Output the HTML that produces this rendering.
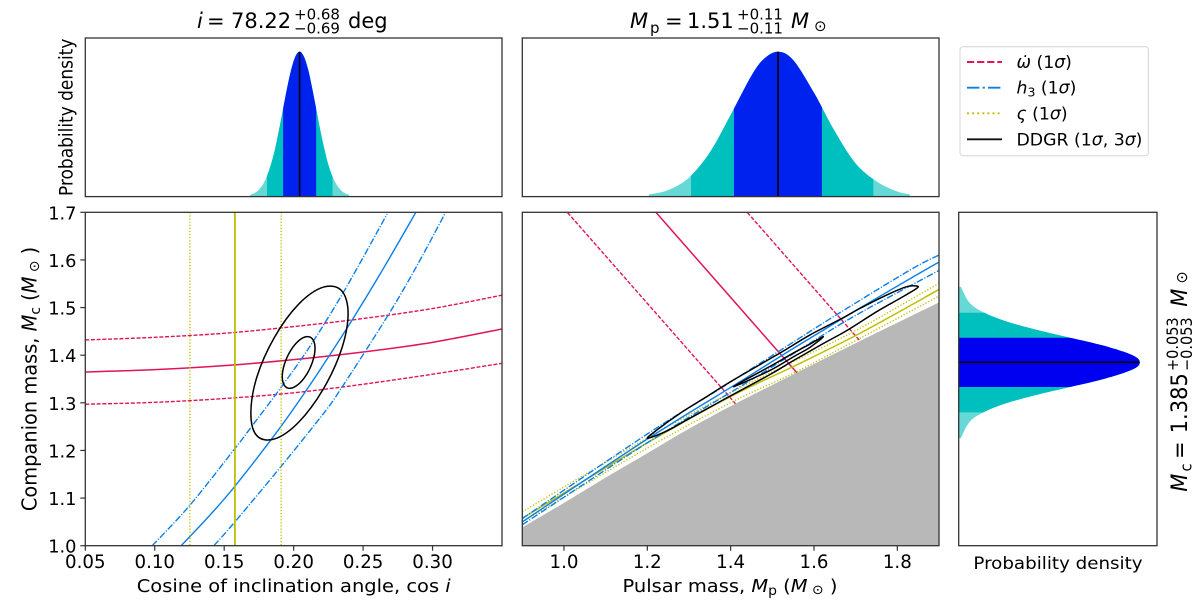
<!DOCTYPE html>
<html lang="en">
<head>
<meta charset="utf-8">
<title>Pulsar mass-mass constraints</title>
<style>
html,body{margin:0;padding:0;background:#fff;}
svg{display:block;font-family:"DejaVu Sans","Liberation Sans",sans-serif;fill:#000;}
text{font-size:17px;}
.it{font-style:italic;}
</style>
</head>
<body>
<svg id="fig" width="1200" height="603" viewBox="0 0 1200 603" xmlns="http://www.w3.org/2000/svg">
  <defs>
    <clipPath id="clip-left"><rect x="85.3" y="212.3" width="416.7" height="333.4"/></clipPath>
    <clipPath id="clip-mid"><rect x="522.3" y="212.3" width="416.7" height="333.4"/></clipPath>
  </defs>
  <rect width="1200" height="603" fill="#fff"/>
  <g id="top-left"></g>
  <g id="top-mid"></g>
  <g id="side-right"></g>
  <g id="main-left" clip-path="url(#clip-left)"></g>
  <g id="main-mid" clip-path="url(#clip-mid)"></g>
  <g id="ticks"></g>

  <rect x="85.3" y="38" width="416.7" height="158.6" fill="none" stroke="#333" stroke-width="1.3"/>
  <rect x="522.3" y="38" width="416.7" height="158.6" fill="none" stroke="#333" stroke-width="1.3"/>
  <rect x="85.3" y="212.3" width="416.7" height="333.4" fill="none" stroke="#333" stroke-width="1.3"/>
  <rect x="522.3" y="212.3" width="416.7" height="333.4" fill="none" stroke="#333" stroke-width="1.3"/>
  <rect x="958.7" y="212.3" width="198.3" height="333.4" fill="none" stroke="#333" stroke-width="1.3"/>

  <g>
    <text x="197" y="28" class="it" style="font-size:21px">i</text>
    <text x="207" y="28" style="font-size:21px">=</text>
    <text x="231" y="28" style="font-size:21px">78.22</text>
    <text x="294" y="19.5" style="font-size:15px">+0.68</text>
    <text x="294" y="33.5" style="font-size:15px">−0.69</text>
    <text x="348" y="28" style="font-size:21px">deg</text>
  </g>
  <g>
    <text x="630" y="28" class="it" style="font-size:21px">M</text>
    <text x="650" y="33" style="font-size:15px">p</text>
    <text x="665" y="28" style="font-size:21px">=</text>
    <text x="687" y="28" style="font-size:21px">1.51</text>
    <text x="737" y="19.5" style="font-size:15px">+0.11</text>
    <text x="737" y="33.5" style="font-size:15px">−0.11</text>
    <text x="791" y="28" class="it" style="font-size:21px">M</text>
    <text x="814" y="31" style="font-size:15px">⊙</text>
  </g>

  <text transform="translate(72.7,117.3) scale(1.075,1) rotate(-90)" text-anchor="middle">Probability density</text>
  <text transform="translate(36.7,379) scale(1.03,1) rotate(-90)" text-anchor="middle" style="font-size:19.4px">Companion mass, <tspan class="it">M</tspan><tspan dy="3" style="font-size:13.8px">c</tspan><tspan dy="-3"> (</tspan><tspan class="it">M</tspan><tspan dy="2" style="font-size:13.8px"> ⊙</tspan><tspan dy="-2"> )</tspan></text>
  <text transform="translate(293.7,592) scale(1.075,1)" text-anchor="middle" style="font-size:18.1px">Cosine of inclination angle, cos <tspan class="it">i</tspan></text>
  <text transform="translate(730,592) scale(1.075,1)" text-anchor="middle" style="font-size:18.1px">Pulsar mass, <tspan class="it">M</tspan><tspan dy="3" style="font-size:13px">p</tspan><tspan dy="-3"> (</tspan><tspan class="it">M</tspan><tspan dy="2" style="font-size:13px"> ⊙</tspan><tspan dy="-2"> )</tspan></text>
  <text transform="translate(1058,569) scale(1.075,1)" text-anchor="middle">Probability density</text>

  <g>
    <text transform="translate(1187,491.7) scale(1.075,1) rotate(-90)" class="it" style="font-size:21px">M</text>
    <text transform="translate(1191.5,471.5) scale(1.075,1) rotate(-90)" style="font-size:14.5px">c</text>
    <text transform="translate(1187,459) scale(1.075,1) rotate(-90)" style="font-size:21px">=</text>
    <text transform="translate(1187,433.3) scale(1.075,1) rotate(-90)" style="font-size:21px">1.385</text>
    <text transform="translate(1178,371) scale(1.075,1) rotate(-90)" style="font-size:14.5px">+0.053</text>
    <text transform="translate(1192,371) scale(1.075,1) rotate(-90)" style="font-size:14.5px">−0.053</text>
    <text transform="translate(1187,306.7) scale(1.075,1) rotate(-90)" class="it" style="font-size:21px">M</text>
    <text transform="translate(1187,283.5) scale(1.075,1) rotate(-90)" style="font-size:14.5px">⊙</text>
  </g>

  <g>
    <rect x="960" y="46.7" width="188.4" height="109" rx="3" fill="#fff" stroke="#d4d4d4" stroke-width="1"/>
    <g>
      <line x1="967" x2="1002" y1="62" y2="62" stroke="#e0145a" stroke-width="1.9" stroke-dasharray="7.2,2.9"/>
      <text x="1016.5" y="68" xml:space="preserve" style="font-size:17.3px"><tspan class="it">ω̇</tspan> (1<tspan class="it">σ</tspan>)</text>
    </g>
    <g>
      <line x1="967" x2="1002" y1="87.7" y2="87.7" stroke="#0a7fe8" stroke-width="1.9" stroke-dasharray="12.4,3.2,2.2,3.2"/>
      <text x="1016.5" y="93.7" xml:space="preserve" style="font-size:17.3px"><tspan class="it">h</tspan><tspan dy="3" style="font-size:12.5px">3</tspan><tspan dy="-3"> (1</tspan><tspan class="it">σ</tspan>)</text>
    </g>
    <g>
      <line x1="967" x2="1002" y1="113.3" y2="113.3" stroke="#bfbf00" stroke-width="1.9" stroke-dasharray="2,3.1"/>
      <text x="1016.5" y="119.3" xml:space="preserve" style="font-size:17.3px"><tspan class="it">ς</tspan> (1<tspan class="it">σ</tspan>)</text>
    </g>
    <g>
      <line x1="967" x2="1002" y1="139.3" y2="139.3" stroke="#111" stroke-width="1.9"/>
      <text x="1016.5" y="145.3" xml:space="preserve" style="font-size:17.3px">DDGR (1<tspan class="it">σ</tspan>, 3<tspan class="it">σ</tspan>)</text>
    </g>
  </g>
</svg>
<script>
// ---- axis tick values and labels ----
const leftXTicks = [0.05, 0.10, 0.15, 0.20, 0.25, 0.30];
const leftXLabels = ["0.05", "0.10", "0.15", "0.20", "0.25", "0.30"];
const midXTicks = [1.0, 1.2, 1.4, 1.6, 1.8];
const midXLabels = ["1.0", "1.2", "1.4", "1.6", "1.8"];
const mainYTicks = [1.0, 1.1, 1.2, 1.3, 1.4, 1.5, 1.6, 1.7];
const mainYLabels = ["1.0", "1.1", "1.2", "1.3", "1.4", "1.5", "1.6", "1.7"];

// ---- cos i histogram ----
const cosiGrid = [0.1686, 0.1716, 0.1746, 0.1776, 0.1805, 0.1835, 0.1865, 0.1894, 0.1924, 0.1954, 0.1984, 0.2013, 0.2043, 0.2073, 0.2103, 0.2132, 0.2162, 0.2192, 0.2222, 0.2251, 0.2281, 0.2311, 0.2341, 0.2370, 0.2400];
const cosiDensity = [0.011, 0.023, 0.044, 0.08, 0.135, 0.216, 0.325, 0.458, 0.607, 0.755, 0.882, 0.969, 1, 0.969, 0.882, 0.755, 0.607, 0.458, 0.325, 0.216, 0.135, 0.08, 0.044, 0.023, 0.011];
const cosiCenter = 0.2043;
const cosiBand1 = [0.1924, 0.2162];
const cosiBand2 = [0.1808, 0.2280];
const cosiBand3 = [0.1686, 0.2400];

// ---- Mp histogram ----
const mpGrid = [1.20, 1.25, 1.30, 1.35, 1.40, 1.45, 1.48, 1.5136, 1.55, 1.60, 1.65, 1.70, 1.75, 1.80, 1.83];
const mpDensity = [0.0125, 0.045, 0.131, 0.305, 0.564, 0.835, 0.951, 1, 0.943, 0.717, 0.45, 0.228, 0.105, 0.035, 0.016];
const mpCenter = 1.5136;
const mpBand1 = [1.408, 1.619];
const mpBand2 = [1.305, 1.7424];
const mpBand3 = [1.204, 1.83];

// ---- Mc histogram ----
const mcGrid = [1.2255, 1.26, 1.28, 1.30, 1.32, 1.3333, 1.35, 1.37, 1.385, 1.40, 1.42, 1.4367, 1.45, 1.47, 1.489, 1.51, 1.5438];
const mcDensity = [0.0099, 0.059, 0.135, 0.269, 0.465, 0.615, 0.80, 0.96, 1, 0.96, 0.80, 0.615, 0.465, 0.269, 0.141, 0.059, 0.0104];
const mcCenter = 1.385;
const mcBand1 = [1.3333, 1.4367];
const mcBand2 = [1.28, 1.489];
const mcBand3 = [1.2255, 1.5438];

// ---- left panel series (cos i, Mc) ----
const omdotGridCosi = [0.05, 0.10, 0.15, 0.20, 0.25, 0.30, 0.35];
const omdotCenterMc = [1.3647, 1.3696, 1.378, 1.3906, 1.4067, 1.427, 1.455];
const omdotUpperMc = [1.432, 1.4375, 1.446, 1.46, 1.477, 1.498, 1.526];
const omdotLowerMc = [1.297, 1.301, 1.309, 1.321, 1.339, 1.36, 1.383];
const h3CenterCosi = [0.119, 0.14, 0.158, 0.189, 0.21, 0.227, 0.243, 0.265, 0.288];
const h3CenterMc = [1.0, 1.065, 1.126, 1.243, 1.33, 1.405, 1.478, 1.584, 1.70];
const h3UpperCosi = [0.0982, 0.1253, 0.1577, 0.1697, 0.1908, 0.2116, 0.2368, 0.2673];
const h3UpperMc = [1.0, 1.085, 1.204, 1.25, 1.332, 1.418, 1.537, 1.6965];
const h3LowerCosi = [0.1426, 0.1577, 0.1908, 0.2212, 0.2344, 0.268, 0.2884, 0.3088];
const h3LowerMc = [1.0, 1.05, 1.166, 1.2765, 1.331, 1.484, 1.586, 1.6965];
const varsigmaCenterCosi = 0.1577;
const varsigmaLowerCosi = 0.1253;
const varsigmaUpperCosi = 0.191;
const ddgrOuterCosi = [0.2392, 0.2344, 0.2212, 0.2035, 0.1862, 0.1735, 0.1692, 0.1735, 0.1862, 0.2035, 0.2212, 0.2344];
const ddgrOuterMc = [1.4879, 1.5358, 1.5427, 1.5068, 1.4376, 1.3539, 1.2779, 1.2310, 1.2241, 1.2590, 1.3282, 1.4119];
const ddgrInnerCosi = [0.2154, 0.2138, 0.2095, 0.2036, 0.1977, 0.1934, 0.1918, 0.1934, 0.1977, 0.2036, 0.2095, 0.2138];
const ddgrInnerMc = [1.4145, 1.4331, 1.4389, 1.4301, 1.4091, 1.3815, 1.3549, 1.3363, 1.3305, 1.3393, 1.3603, 1.3879];

// ---- middle panel series (Mp, Mc) ----
const forbiddenMp = [0.9, 1.0, 1.1, 1.2, 1.3, 1.41, 1.5587, 1.7106, 1.9];
const forbiddenMc = [1.0385, 1.09, 1.143, 1.194, 1.2455, 1.2975, 1.3633, 1.4298, 1.511];
const omdotCenterMp = [1.2213, 1.5587];
const omdotCenterMpMc = [1.6993, 1.3633];
const omdotUpperMp = [1.4404, 1.7106];
const omdotUpperMpMc = [1.6993, 1.4298];
const omdotLowerMp = [1.0087, 1.4116];
const omdotLowerMpMc = [1.6993, 1.2982];
const h3CenterMpGrid = [0.9, 1.2, 1.4225, 1.55, 1.7104, 1.8664, 1.9];
const h3CenterMpMc = [1.050, 1.224, 1.3444, 1.414, 1.499, 1.5788, 1.5955];
const h3UpperMpGrid = [0.9, 1.2, 1.375, 1.519, 1.658, 1.8304, 1.9];
const h3UpperMpMc = [1.057, 1.2345, 1.330, 1.410, 1.487, 1.5788, 1.6104];
const h3LowerMpGrid = [0.9, 1.2, 1.4225, 1.55, 1.6944, 1.9];
const h3LowerMpMc = [1.044, 1.216, 1.3339, 1.403, 1.4808, 1.578];
const varsigmaMpGrid = [0.9, 1.2, 1.406, 1.55, 1.71, 1.9];
const varsigmaCenterMc = [1.0575, 1.216, 1.316, 1.376, 1.4458, 1.538];
const varsigmaUpperMc = [1.0714, 1.226, 1.324, 1.3863, 1.4563, 1.551];
const varsigmaLowerMc = [1.05, 1.205, 1.303, 1.3618, 1.4353, 1.524];
const ddgrMidOuterMp = [1.8464, 1.8224, 1.7744, 1.7104, 1.6664, 1.59, 1.5184, 1.4065, 1.3425, 1.2785, 1.2229, 1.2006, 1.2469, 1.2945, 1.3825, 1.4945, 1.5504, 1.6224, 1.6784, 1.7504, 1.8064, 1.8464];
const ddgrMidOuterMc = [1.5452, 1.5438, 1.5263, 1.4983, 1.4770, 1.4423, 1.4045, 1.3479, 1.3129, 1.2779, 1.2429, 1.2254, 1.2410, 1.2640, 1.3065, 1.3595, 1.3885, 1.4245, 1.4515, 1.4913, 1.5193, 1.5403];
const ddgrMidInnerMp = [1.6224, 1.5904, 1.5504, 1.4945, 1.4065, 1.4945, 1.5504, 1.5904];
const ddgrMidInnerMc = [1.4388, 1.4234, 1.4045, 1.3765, 1.3339, 1.3680, 1.3965, 1.4165];

// ---- axis functions ----
const NS = "http://www.w3.org/2000/svg";
const RED = "#e0145a", BLUE = "#0a7fe8", YEL = "#bfbf00";
const DASH = "4,1.7", DASHDOT = "6.8,1.7,1.1,1.7", DOT = "1.2,1.9";
function lin(d0, d1, p0, p1) { return function (v) { return p0 + (v - d0) * (p1 - p0) / (d1 - d0); }; }
const xLeft = lin(0.05, 0.35, 85.3, 502);
const xMid = lin(0.9, 1.9, 522.3, 939);
const yMain = lin(1.0, 1.7, 545.7, 212.3);
const densTop = lin(0, 1, 196.6, 51.7);
const densSide = lin(0, 1, 959, 1139.7);

function zip(xs, ys, fx, fy) {
  const out = [];
  for (let i = 0; i < xs.length; i++) out.push([fx(xs[i]), fy(ys[i])]);
  return out;
}
function spline(p, closed) {
  const n = p.length;
  const at = function (i) {
    if (closed) return p[(i + n) % n];
    return p[Math.max(0, Math.min(n - 1, i))];
  };
  let d = "M" + p[0][0].toFixed(2) + "," + p[0][1].toFixed(2);
  const segs = closed ? n : n - 1;
  for (let i = 0; i < segs; i++) {
    const a = at(i - 1), b = at(i), c = at(i + 1), e = at(i + 2);
    d += "C" + (b[0] + (c[0] - a[0]) / 6).toFixed(2) + "," + (b[1] + (c[1] - a[1]) / 6).toFixed(2) + " " +
      (c[0] - (e[0] - b[0]) / 6).toFixed(2) + "," + (c[1] - (e[1] - b[1]) / 6).toFixed(2) + " " +
      c[0].toFixed(2) + "," + c[1].toFixed(2);
  }
  return closed ? d + "Z" : d;
}
function pathEl(parent, d, stroke, width, dash, fill) {
  const el = document.createElementNS(NS, "path");
  el.setAttribute("d", d);
  el.setAttribute("fill", fill || "none");
  if (stroke) {
    el.setAttribute("stroke", stroke);
    el.setAttribute("stroke-width", width);
  }
  if (dash) el.setAttribute("stroke-dasharray", dash);
  parent.appendChild(el);
  return el;
}
function clipRect(id, x, y, w, h) {
  const c = document.createElementNS(NS, "clipPath");
  c.setAttribute("id", id);
  const r = document.createElementNS(NS, "rect");
  r.setAttribute("x", x);
  r.setAttribute("y", y);
  r.setAttribute("width", w);
  r.setAttribute("height", h);
  c.appendChild(r);
  document.querySelector("#fig defs").appendChild(c);
}
function topArea(grid, dens, fx) {
  const p = zip(grid, dens, fx, densTop);
  return spline(p, false) + "L" + p[p.length - 1][0].toFixed(2) + ",196.6L" + p[0][0].toFixed(2) + ",196.6Z";
}
function sideArea(grid, dens) {
  const p = zip(dens, grid, densSide, yMain);
  return spline(p, false) + "L959," + p[p.length - 1][1].toFixed(2) + "L959," + p[0][1].toFixed(2) + "Z";
}
function topBand(parent, id, area, fx, band, color) {
  clipRect(id, fx(band[0]), 38, fx(band[1]) - fx(band[0]), 158.6);
  const el = pathEl(parent, area, null, 0, null, color);
  el.setAttribute("clip-path", "url(#" + id + ")");
  return el;
}
function sideBand(parent, id, area, band, color) {
  clipRect(id, 958, yMain(band[1]), 200, yMain(band[0]) - yMain(band[1]));
  const el = pathEl(parent, area, null, 0, null, color);
  el.setAttribute("clip-path", "url(#" + id + ")");
  return el;
}
function vertical(parent, x, y0, y1, stroke, width, dash) {
  return pathEl(parent, "M" + x.toFixed(2) + "," + y0 + "L" + x.toFixed(2) + "," + y1, stroke, width, dash);
}

// ---- histograms ----
const gTL = document.getElementById("top-left");
const areaTL = topArea(cosiGrid, cosiDensity, xLeft);
const tl3 = topBand(gTL, "tl3", areaTL, xLeft, cosiBand3, "#66d9d6");


const tl2 = topBand(gTL, "tl2", areaTL, xLeft, cosiBand2, "#00bfbf");


const tl1 = topBand(gTL, "tl1", areaTL, xLeft, cosiBand1, "#0022ee");


const tlc = vertical(gTL, xLeft(cosiCenter), 196.6, densTop(1), "#000", 1.6);



const gTM = document.getElementById("top-mid");
const areaTM = topArea(mpGrid, mpDensity, xMid);
const tm3 = topBand(gTM, "tm3", areaTM, xMid, mpBand3, "#66d9d6");


const tm2 = topBand(gTM, "tm2", areaTM, xMid, mpBand2, "#00bfbf");


const tm1 = topBand(gTM, "tm1", areaTM, xMid, mpBand1, "#0022ee");


const tmc = vertical(gTM, xMid(mpCenter), 196.6, densTop(1), "#000", 1.6);



const gSR = document.getElementById("side-right");
const areaSR = sideArea(mcGrid, mcDensity);
const sr3 = sideBand(gSR, "sr3", areaSR, mcBand3, "#66d9d6");


const sr2 = sideBand(gSR, "sr2", areaSR, mcBand2, "#00bfbf");


const sr1 = sideBand(gSR, "sr1", areaSR, mcBand1, "#0000f0");


const src = pathEl(gSR, "M959," + yMain(mcCenter).toFixed(2) + "L" + densSide(1).toFixed(2) + "," + yMain(mcCenter).toFixed(2), "#000", 1.6);



// ---- left main panel ----
const gL = document.getElementById("main-left");
const lOmC = pathEl(gL, spline(zip(omdotGridCosi, omdotCenterMc, xLeft, yMain)), RED, 1.5);


const lOmU = pathEl(gL, spline(zip(omdotGridCosi, omdotUpperMc, xLeft, yMain)), RED, 1.4, DASH);


const lOmL = pathEl(gL, spline(zip(omdotGridCosi, omdotLowerMc, xLeft, yMain)), RED, 1.4, DASH);


const lH3C = pathEl(gL, spline(zip(h3CenterCosi, h3CenterMc, xLeft, yMain)), BLUE, 1.4);


const lH3U = pathEl(gL, spline(zip(h3UpperCosi, h3UpperMc, xLeft, yMain)), BLUE, 1.4, DASHDOT);


const lH3L = pathEl(gL, spline(zip(h3LowerCosi, h3LowerMc, xLeft, yMain)), BLUE, 1.4, DASHDOT);


const lVsC = vertical(gL, xLeft(varsigmaCenterCosi), 212.3, 545.7, YEL, 1.8);


const lVsL = vertical(gL, xLeft(varsigmaLowerCosi), 212.3, 545.7, YEL, 1.4, DOT);


const lVsU = vertical(gL, xLeft(varsigmaUpperCosi), 212.3, 545.7, YEL, 1.4, DOT);


const lOut = pathEl(gL, spline(zip(ddgrOuterCosi, ddgrOuterMc, xLeft, yMain), true), "#000", 1.5);


const lIn = pathEl(gL, spline(zip(ddgrInnerCosi, ddgrInnerMc, xLeft, yMain), true), "#000", 1.5);



// ---- middle main panel ----
const gM = document.getElementById("main-mid");
const fp = zip(forbiddenMp, forbiddenMc, xMid, yMain);
const mGrey = pathEl(gM, spline(fp) + "L939,545.7L522.3,545.7Z", null, 0, null, "#b8b8b8");


const mOmC = pathEl(gM, spline(zip(omdotCenterMp, omdotCenterMpMc, xMid, yMain)), RED, 1.5);


const mOmU = pathEl(gM, spline(zip(omdotUpperMp, omdotUpperMpMc, xMid, yMain)), RED, 1.4, DASH);


const mOmL = pathEl(gM, spline(zip(omdotLowerMp, omdotLowerMpMc, xMid, yMain)), RED, 1.4, DASH);


const mVsC = pathEl(gM, spline(zip(varsigmaMpGrid, varsigmaCenterMc, xMid, yMain)), YEL, 1.5);


const mVsU = pathEl(gM, spline(zip(varsigmaMpGrid, varsigmaUpperMc, xMid, yMain)), YEL, 1.4, DOT);


const mVsL = pathEl(gM, spline(zip(varsigmaMpGrid, varsigmaLowerMc, xMid, yMain)), YEL, 1.4, DOT);


const mH3C = pathEl(gM, spline(zip(h3CenterMpGrid, h3CenterMpMc, xMid, yMain)), BLUE, 1.4);


const mH3U = pathEl(gM, spline(zip(h3UpperMpGrid, h3UpperMpMc, xMid, yMain)), BLUE, 1.4, DASHDOT);


const mH3L = pathEl(gM, spline(zip(h3LowerMpGrid, h3LowerMpMc, xMid, yMain)), BLUE, 1.4, DASHDOT);


const mOut = pathEl(gM, spline(zip(ddgrMidOuterMp, ddgrMidOuterMc, xMid, yMain), true), "#000", 1.5);


const mIn = pathEl(gM, spline(zip(ddgrMidInnerMp, ddgrMidInnerMc, xMid, yMain), true), "#000", 1.5);



// ---- ticks ----
const gT = document.getElementById("ticks");
function tickLabel(x, y, anchor, str, size) {
  const t = document.createElementNS(NS, "text");
  t.setAttribute("x", x.toFixed(2));
  t.setAttribute("y", y);
  t.setAttribute("text-anchor", anchor);
  t.style.fontSize = size + "px";
  t.textContent = str;
  gT.appendChild(t);
  return t;
}
leftXTicks.forEach(function (v, i) {
  const tk = pathEl(gT, "M" + xLeft(v).toFixed(2) + ",545.7v5", "#333", 1.2);
  
  
  const lb = tickLabel(xLeft(v), 568, "middle", leftXLabels[i], 18.2);
  
  
});
midXTicks.forEach(function (v, i) {
  const tk = pathEl(gT, "M" + xMid(v).toFixed(2) + ",545.7v5", "#333", 1.2);
  
  
  const lb = tickLabel(xMid(v), 568, "middle", midXLabels[i], 18.2);
  
  
});
mainYTicks.forEach(function (v, i) {
  const tk = pathEl(gT, "M85.3," + yMain(v).toFixed(2) + "h-5", "#333", 1.2);
  
  
  const lb = tickLabel(76.5, (yMain(v) + 7).toFixed(2), "end", mainYLabels[i], 17.8);
  
  
});
</script>
</body>
</html>
